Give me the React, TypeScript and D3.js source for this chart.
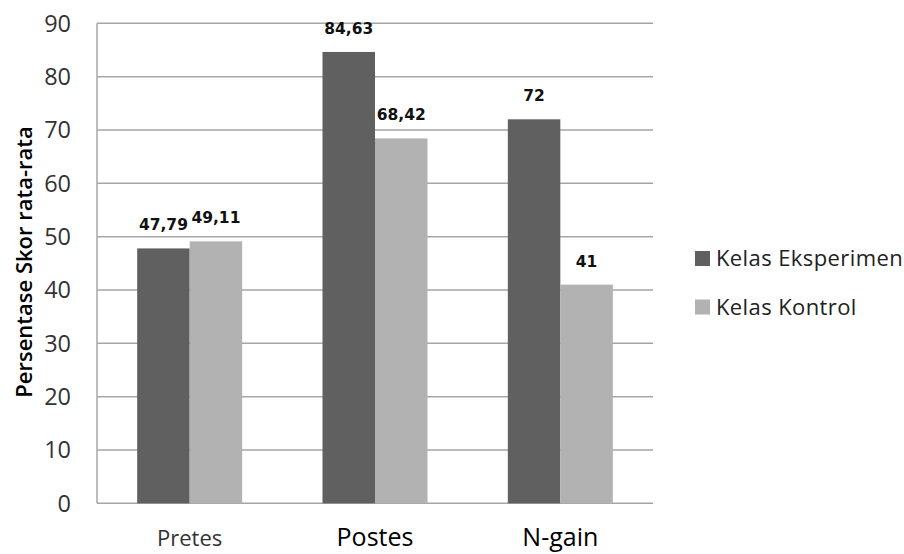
import React from "react";
import * as d3 from "d3";

const categories = ["Pretes", "Postes", "N-gain"];
const seriesNames = ["Kelas Eksperimen", "Kelas Kontrol"];
const eksperimen = [47.79, 84.63, 72];
const kontrol = [49.11, 68.42, 41];
const valueLabels = [["47,79", "84,63", "72"], ["49,11", "68,42", "41"]];
const yTicks = [0, 10, 20, 30, 40, 50, 60, 70, 80, 90];
const colors = ["#606060", "#b2b2b2"];

const W = 904, H = 554;
const left = 97, right = 653, top = 23.3, bottom = 503.3;

export default function App() {
  const x = d3.scaleBand<string>().domain(categories).range([left, right]).paddingInner(0).paddingOuter(0);
  const y = d3.scaleLinear().domain([0, 90]).range([bottom, top]);
  const barW = 52.5;
  const series = [eksperimen, kontrol];
  const font = "'Open Sans', sans-serif";
  const catStyle = [
    { size: 22, fill: "#333" },
    { size: 25, fill: "#000" },
    { size: 25, fill: "#000" },
  ];
  return (
    <svg width={W} height={H} style={{ position: "absolute", left: 0, top: 0, background: "#fff" }}>
      {yTicks.map((t) => (
        <g key={t}>
          <line x1={left} x2={right} y1={y(t)} y2={y(t)} stroke="#a6a6a6" strokeWidth={1.5} />
          <text x={71} y={y(t) + 8.5} textAnchor="end" fontFamily={font} fontSize={23.5} fill="#333">
            {t}
          </text>
        </g>
      ))}
      <line x1={left} x2={left} y1={top} y2={bottom} stroke="#a6a6a6" strokeWidth={1.5} />
      {categories.map((c, i) => {
        const cx = (x(c) as number) + x.bandwidth() / 2;
        return (
          <g key={c}>
            {series.map((s, j) => {
              const bx = cx - barW + j * barW;
              return (
                <g key={j}>
                  <rect x={bx} y={y(s[i])} width={barW} height={bottom - y(s[i])} fill={colors[j]} />
                  <text x={bx + barW / 2} y={y(s[i]) - 18} textAnchor="middle" fontFamily="'DejaVu Sans', sans-serif" fontWeight="bold" fontSize={15.5} fill="#111">
                    {valueLabels[j][i]}
                  </text>
                </g>
              );
            })}
            <text x={cx} y={546} textAnchor="middle" fontFamily={font} fontSize={catStyle[i].size} fill={catStyle[i].fill}>
              {c}
            </text>
          </g>
        );
      })}
      <text transform={`translate(32,${262}) rotate(-90)`} textAnchor="middle" fontFamily={font} fontWeight={600} fontSize={22} fill="#000">
        Persentase Skor rata-rata
      </text>
      {seriesNames.map((n, j) => (
        <g key={n}>
          <rect x={695} y={251 + j * 48.5} width={15} height={15} fill={colors[j]} />
          <text x={716} y={266 + j * 48.5} fontFamily={font} fontSize={22} letterSpacing={0.4} fill="#222">
            {n}
          </text>
        </g>
      ))}
    </svg>
  );
}
